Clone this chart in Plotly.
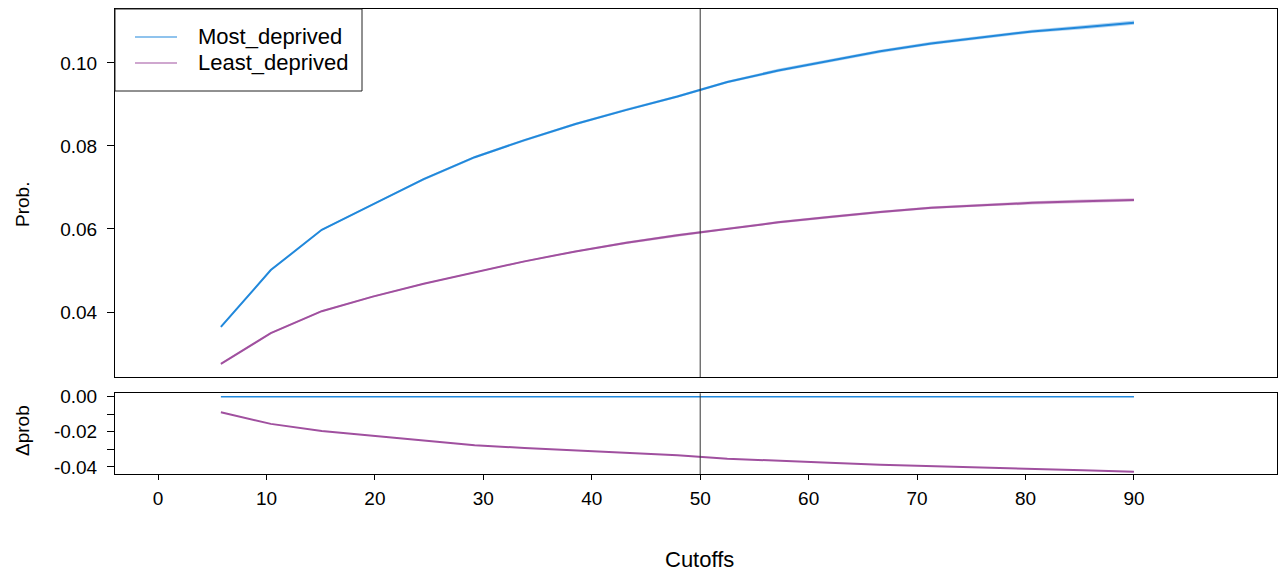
import plotly.graph_objects as go

# ---- data ----
cutoffs = [5.8, 10.4, 15.1, 19.8, 24.5, 29.2, 33.8, 38.5, 43.2, 47.9,
           52.5, 57.2, 61.9, 66.6, 71.3, 75.9, 80.6, 85.3, 90.0]
most_deprived = [0.0364, 0.0501, 0.0598, 0.0660, 0.0720, 0.0773, 0.0814, 0.0853, 0.0887, 0.0919,
                 0.0954, 0.0982, 0.1005, 0.1028, 0.1047, 0.1061, 0.1076, 0.1086, 0.1097]
least_deprived = [0.0275, 0.0349, 0.0402, 0.0437, 0.0468, 0.0496, 0.0522, 0.0546, 0.0567, 0.0585,
                  0.0601, 0.0616, 0.0629, 0.0641, 0.0651, 0.0657, 0.0663, 0.0667, 0.0670]
most_ci = [0.0002, 0.0002, 0.0002, 0.0002, 0.0003, 0.0003, 0.0003, 0.0003, 0.0003, 0.0003,
           0.0003, 0.0004, 0.0004, 0.0004, 0.0004, 0.0004, 0.0004, 0.0005, 0.0005]
least_ci = [0.0002, 0.0002, 0.0002, 0.0002, 0.0002, 0.0002, 0.0002, 0.0002, 0.0003, 0.0003,
            0.0003, 0.0003, 0.0003, 0.0003, 0.0003, 0.0003, 0.0004, 0.0004, 0.0004]
delta_most = [0.0, 0.0, 0.0, 0.0, 0.0, 0.0, 0.0, 0.0, 0.0, 0.0,
              0.0, 0.0, 0.0, 0.0, 0.0, 0.0, 0.0, 0.0, 0.0]
delta_least = [-0.0089, -0.0155, -0.0196, -0.0223, -0.0252, -0.0277, -0.0292, -0.0307, -0.0320, -0.0334,
               -0.0353, -0.0366, -0.0376, -0.0387, -0.0396, -0.0404, -0.0413, -0.0419, -0.0427]
x_ticks = [0, 10, 20, 30, 40, 50, 60, 70, 80, 90]
top_ticks = [0.04, 0.06, 0.08, 0.10]
bottom_ticks = [0.0, -0.01, -0.02, -0.03, -0.04]
bottom_ticktext = ["0.00", "", "-0.02", "", "-0.04"]
names = ["Most_deprived", "Least_deprived"]
vline_x = 50

BLUE = "#2188DB"
PURPLE = "#A0509F"
FONT = "Liberation Sans"

fig = go.Figure()


def ribbon(y, ci, color):
    lo = [a - b for a, b in zip(y, ci)]
    hi = [a + b for a, b in zip(y, ci)]
    return go.Scatter(x=cutoffs + cutoffs[::-1], y=hi + lo[::-1], fill="toself",
                      fillcolor=color, line=dict(width=0), mode="lines",
                      hoverinfo="skip", showlegend=False, xaxis="x", yaxis="y")


fig.add_trace(ribbon(most_deprived, most_ci, "rgba(33,136,219,0.35)"))
fig.add_trace(ribbon(least_deprived, least_ci, "rgba(160,80,159,0.35)"))
fig.add_trace(go.Scatter(x=cutoffs, y=most_deprived, mode="lines", name=names[0],
                         line=dict(color=BLUE, width=2), xaxis="x", yaxis="y", showlegend=False))
fig.add_trace(go.Scatter(x=cutoffs, y=least_deprived, mode="lines", name=names[1],
                         line=dict(color=PURPLE, width=2), xaxis="x", yaxis="y", showlegend=False))
fig.add_trace(go.Scatter(x=cutoffs, y=delta_most, mode="lines", name=names[0],
                         line=dict(color=BLUE, width=1.5), xaxis="x2", yaxis="y2", showlegend=False))
fig.add_trace(go.Scatter(x=cutoffs, y=delta_least, mode="lines", name=names[1],
                         line=dict(color=PURPLE, width=2), xaxis="x2", yaxis="y2", showlegend=False))

W, H = 1278, 573
L, R, T, B = 115, 1, 9, 99
pw, ph = W - L - R, H - T - B


def px(x):
    return (x - L) / pw


def py(y):
    return (H - B - y) / ph


xr = [-3.965, 103.19]
axis_common = dict(showline=True, mirror=True, linecolor="black", linewidth=1,
                   showgrid=False, zeroline=False)

fig.update_layout(
    width=W, height=H,
    margin=dict(l=L, r=R, t=T, b=B),
    plot_bgcolor="white", paper_bgcolor="white",
    font=dict(family=FONT, size=19, color="black"),
    showlegend=False,
    xaxis=dict(domain=[0, 1], range=xr, anchor="y", showticklabels=False, ticks="",
               **axis_common),
    yaxis=dict(domain=[py(377), 1], range=[0.02434, 0.1130], anchor="x",
               tickvals=top_ticks, ticktext=[f"{v:.2f}" for v in top_ticks],
               ticks="outside", ticklen=7, tickcolor="black", ticklabelstandoff=6,
               **axis_common),
    xaxis2=dict(domain=[0, 1], range=xr, anchor="y2", tickvals=x_ticks,
                ticktext=[str(v) for v in x_ticks], ticks="outside", ticklen=5,
                tickcolor="black", ticklabelstandoff=2, **axis_common),
    yaxis2=dict(domain=[0, py(393.3)], range=[-0.0440, 0.0019], anchor="x2",
                tickvals=bottom_ticks, ticktext=bottom_ticktext,
                ticks="outside", ticklen=7, tickcolor="black", ticklabelstandoff=6,
                **axis_common),
)

shapes = [
    dict(type="line", xref="x", yref="y domain", x0=vline_x, x1=vline_x, y0=0, y1=1,
         line=dict(color="#333333", width=1)),
    dict(type="line", xref="x2", yref="y2 domain", x0=vline_x, x1=vline_x, y0=0, y1=1,
         line=dict(color="#333333", width=1)),
    # legend box
    dict(type="rect", xref="paper", yref="paper", x0=px(115), x1=px(362), y0=py(91), y1=py(9),
         fillcolor="white", line=dict(color="#222222", width=1), layer="above"),
    dict(type="line", xref="paper", yref="paper", x0=px(135), x1=px(177), y0=py(37), y1=py(37),
         line=dict(color=BLUE, width=1.2), layer="above"),
    dict(type="line", xref="paper", yref="paper", x0=px(135), x1=px(177), y0=py(63), y1=py(63),
         line=dict(color=PURPLE, width=1.2), layer="above"),
]
fig.update_layout(shapes=shapes)

annotations = [
    dict(text=names[0], x=px(196), y=py(37), xref="paper", yref="paper",
         xanchor="left", yanchor="middle", showarrow=False, font=dict(size=22)),
    dict(text=names[1], x=px(196), y=py(63), xref="paper", yref="paper",
         xanchor="left", yanchor="middle", showarrow=False, font=dict(size=22)),
    dict(text="Prob.", x=px(22), y=py(205), xref="paper", yref="paper", textangle=-90,
         xanchor="center", yanchor="middle", showarrow=False, font=dict(size=19)),
    dict(text="Δprob", x=px(22), y=py(431), xref="paper", yref="paper", textangle=-90,
         xanchor="center", yanchor="middle", showarrow=False, font=dict(size=19)),
    dict(text="Cutoffs", x=px(700), y=py(559), xref="paper", yref="paper",
         xanchor="center", yanchor="middle", showarrow=False, font=dict(size=22)),
]
fig.update_layout(annotations=annotations)

fig.write_html("out.html")
